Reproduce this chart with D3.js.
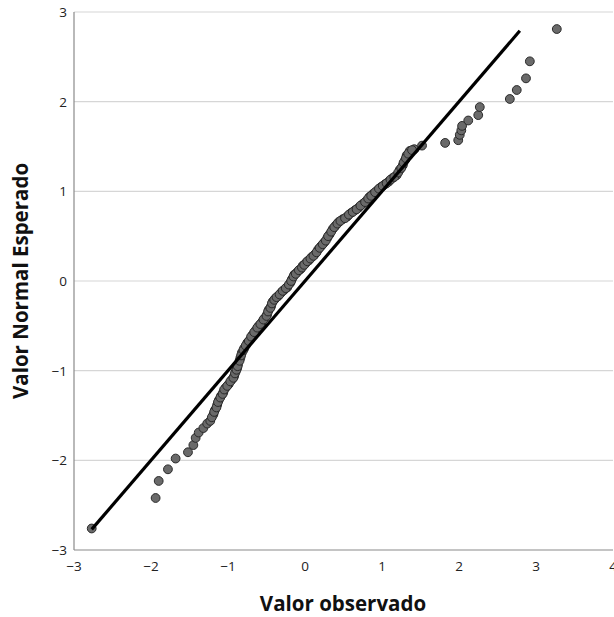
<!DOCTYPE html>
<html>
<head>
<meta charset="utf-8">
<script src="https://cdn.jsdelivr.net/npm/d3@7"></script>
<style>
  body { margin: 0; background: #fff; }
  svg { display: block; }
</style>
</head>
<body>
<script>
// valores (observado, normal esperado)
const observed = [
  -2.77, -1.94, -1.90, -1.78, -1.68, -1.52, -1.45, -1.42, -1.38, -1.32,
  -1.27, -1.23, -1.19, -1.17, -1.14, -1.12, -1.09, -1.06, -1.03, -0.99,
  -0.95, -0.92, -0.90, -0.88, -0.87, -0.84, -0.82, -0.79, -0.75, -0.71,
  -0.68, -0.64, -0.60, -0.56, -0.52, -0.49, -0.47, -0.44, -0.42, -0.39,
  -0.35, -0.31, -0.27, -0.23, -0.19, -0.17, -0.14, -0.10, -0.06, -0.03,
   0.01,  0.05,  0.09,  0.13,  0.17,  0.21,  0.25,  0.29,  0.32,  0.36,
   0.40,  0.44,  0.49,  0.55,  0.60,  0.65,  0.70,  0.75,  0.81,  0.84,
   0.88,  0.94,  0.99,  1.04,  1.09,  1.14,  1.19,  1.23,  1.27,  1.30,
   1.32,  1.36,  1.42,  1.52,  1.82,  1.99,  2.01,  2.03,  2.04,  2.12,
   2.25,  2.27,  2.66,  2.75,  2.87,  2.92,  3.27,
  // tramo central, más denso
  -1.21, -1.18, -1.15, -1.13, -1.10, -1.07, -1.05, -1.01, -0.97, -0.93,
  -0.91, -0.89, -0.875, -0.85, -0.83, -0.80, -0.77, -0.73, -0.70, -0.66,
  -0.62, -0.58, -0.54, -0.50, -0.48, -0.45, -0.43, -0.40, -0.37, -0.33,
  -0.29, -0.25, -0.21, -0.18, -0.15, -0.12, -0.08, -0.04, -0.01,  0.03,
   0.07,  0.11,  0.15,  0.19,  0.23,  0.27,  0.30,  0.34,  0.38,  0.42,
   0.46,  0.52,  0.57,  0.62,  0.67,  0.72,  0.78,  0.82,  0.86,  0.91,
   0.96,  1.01,  1.06,  1.11,  1.16,  1.21,  1.25,  1.28,  1.31,  1.34,
   1.39
];
const expected = [
  -2.76, -2.42, -2.23, -2.10, -1.98, -1.91, -1.83, -1.75, -1.69, -1.64,
  -1.59, -1.56, -1.49, -1.44, -1.38, -1.33, -1.28, -1.24, -1.19, -1.15,
  -1.10, -1.06, -1.01, -0.97, -0.93, -0.86, -0.80, -0.75, -0.69, -0.65,
  -0.60, -0.55, -0.50, -0.46, -0.41, -0.37, -0.32, -0.28, -0.23, -0.20,
  -0.17, -0.13, -0.10, -0.07, -0.02,  0.02,  0.07,  0.10,  0.13,  0.17,
   0.20,  0.23,  0.27,  0.30,  0.35,  0.39,  0.43,  0.48,  0.52,  0.58,
   0.62,  0.66,  0.69,  0.72,  0.76,  0.79,  0.82,  0.86,  0.90,  0.94,
   0.97,  1.01,  1.05,  1.08,  1.11,  1.15,  1.18,  1.24,  1.29,  1.35,
   1.40,  1.45,  1.47,  1.51,  1.54,  1.57,  1.63,  1.68,  1.73,  1.79,
   1.85,  1.94,  2.03,  2.13,  2.26,  2.45,  2.81,
  -1.52, -1.46, -1.41, -1.35, -1.30, -1.26, -1.21, -1.17, -1.12, -1.08,
  -1.03, -0.99, -0.95, -0.89, -0.83, -0.77, -0.72, -0.67, -0.62, -0.57,
  -0.52, -0.48, -0.43, -0.39, -0.34, -0.30, -0.25, -0.21, -0.18, -0.15,
  -0.11, -0.08, -0.04,  0.00,  0.05,  0.08,  0.12,  0.15,  0.18,  0.22,
   0.25,  0.28,  0.32,  0.37,  0.41,  0.45,  0.50,  0.55,  0.60,  0.64,
   0.67,  0.70,  0.74,  0.77,  0.80,  0.84,  0.88,  0.92,  0.95,  0.99,
   1.03,  1.06,  1.09,  1.13,  1.16,  1.21,  1.26,  1.32,  1.37,  1.42,
   1.46
];
const xTicks = [-3, -2, -1, 0, 1, 2, 3, 4];
const yTicks = [-3, -2, -1, 0, 1, 2, 3];
const refLine = [-2.77, 2.79]; // recta y = x

const width = 614, height = 617;
const margin = {top: 12, right: 1, bottom: 67, left: 74};

const svg = d3.select("body").append("svg")
  .attr("width", width)
  .attr("height", height);

const x = d3.scaleLinear().domain([-3, 4]).range([margin.left, width - margin.right]);
const y = d3.scaleLinear().domain([-3, 3]).range([height - margin.bottom, margin.top]);

const font = "'Open Sans', 'DejaVu Sans', sans-serif";

// líneas de cuadrícula
svg.append("g")
  .selectAll("line")
  .data(yTicks.filter(d => d > -3))
  .join("line")
    .attr("x1", x(-3)).attr("x2", x(4))
    .attr("y1", d => y(d)).attr("y2", d => y(d))
    .attr("stroke", "#d6d6d6")
    .attr("stroke-width", 1.2);

// ejes
svg.append("line")
  .attr("x1", x(-3)).attr("x2", x(-3))
  .attr("y1", y(3)).attr("y2", y(-3))
  .attr("stroke", "#8a8a8a").attr("stroke-width", 1.2);
svg.append("line")
  .attr("x1", x(-3)).attr("x2", x(4))
  .attr("y1", y(-3)).attr("y2", y(-3))
  .attr("stroke", "#8a8a8a").attr("stroke-width", 1.2);

const fmt = d => d < 0 ? "\u2212" + Math.abs(d) : String(d);

svg.append("g")
  .selectAll("text")
  .data(xTicks)
  .join("text")
    .attr("x", d => x(d))
    .attr("y", y(-3) + 21)
    .attr("text-anchor", "middle")
    .style("font", `13.5px ${font}`)
    .attr("fill", "#222")
    .text(fmt);

svg.append("g")
  .selectAll("text")
  .data(yTicks)
  .join("text")
    .attr("x", x(-3) - 7)
    .attr("y", d => y(d) + 5)
    .attr("text-anchor", "end")
    .style("font", `13.5px ${font}`)
    .attr("fill", "#222")
    .text(fmt);

// títulos
svg.append("text")
  .attr("x", 343).attr("y", 611)
  .attr("text-anchor", "middle")
  .style("font", `bold 20.5px ${font}`)
  .attr("fill", "#111")
  .text("Valor observado");

svg.append("text")
  .attr("transform", `translate(28,${281}) rotate(-90)`)
  .attr("text-anchor", "middle")
  .style("font", `bold 20.5px ${font}`)
  .attr("fill", "#111")
  .text("Valor Normal Esperado");

// puntos
const points = observed.map((o, i) => ({o, e: expected[i]}));
svg.append("g")
  .selectAll("circle")
  .data(points)
  .join("circle")
    .attr("cx", d => x(d.o))
    .attr("cy", d => y(d.e))
    .attr("r", 4.4)
    .attr("fill", "#6a6a6a")
    .attr("stroke", "#2a2a2a")
    .attr("stroke-width", 1);

// recta de referencia
svg.append("line")
  .attr("x1", x(refLine[0])).attr("y1", y(refLine[0]))
  .attr("x2", x(refLine[1])).attr("y2", y(refLine[1]))
  .attr("stroke", "#000")
  .attr("stroke-width", 3.2);
</script>
</body>
</html>
